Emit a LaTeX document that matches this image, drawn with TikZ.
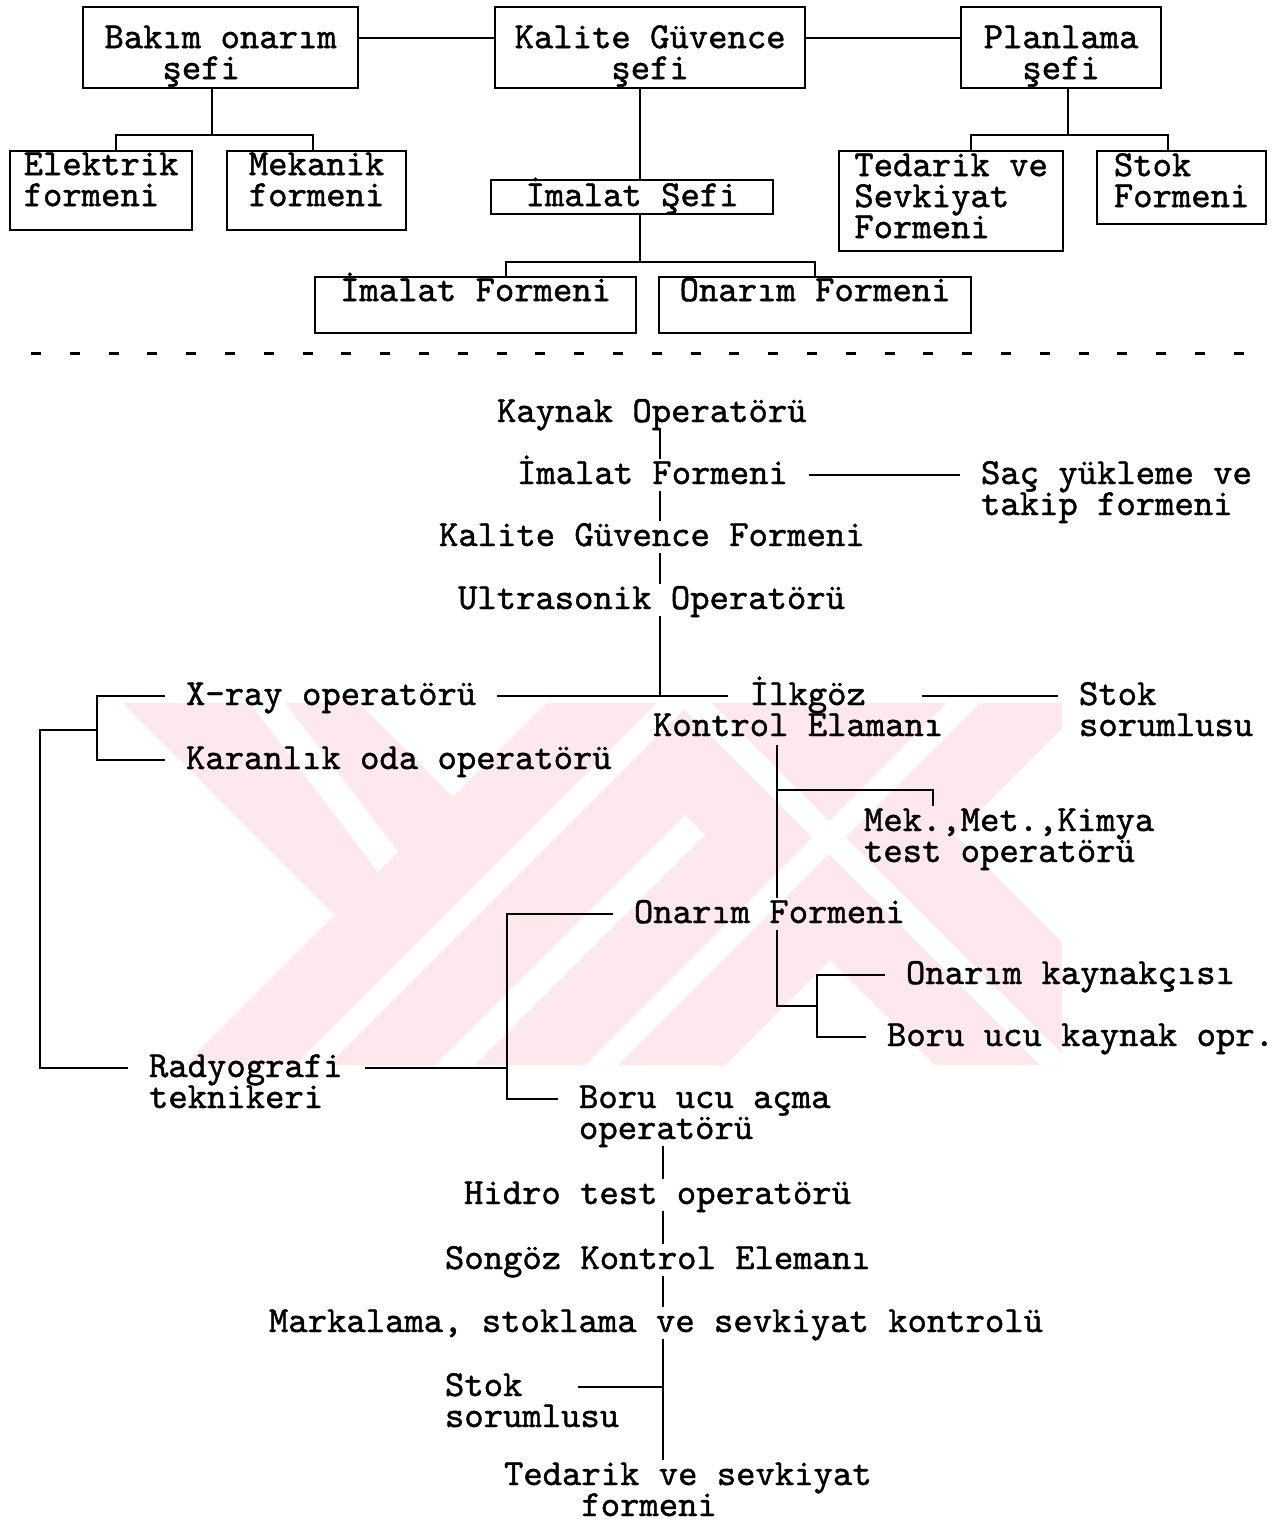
\documentclass[tikz,border=0pt]{standalone}
\usepackage{fontspec}
\newfontfamily\daktilo{lmmono10-regular.otf}[FakeBold=1.2]
\definecolor{pembe}{RGB}{253,233,237}
\newcommand{\yazi}{\daktilo\fontsize{36.86}{31}\selectfont\lineskiplimit=-100pt\relax}
\tikzset{every picture/.style={line width=2pt}}
\tikzset{
  kutu/.style={draw, line width=2.2pt, anchor=north west, inner sep=0pt, align=left, font=\yazi},
  etiket/.style={anchor=base west, inner xsep=20pt, inner ysep=0pt, text height=24pt, text depth=6pt, align=left, font=\yazi,
    execute at begin node={\spaceskip=0.525em\xspaceskip=0.525em\relax}}
}
\begin{document}
\begin{tikzpicture}[x=1pt,y=1pt,yscale=-1,xscale=1]
\useasboundingbox (0,0) rectangle (1283,1522);
%watermark
\begin{scope}
\clip (109,703) rectangle (1062,1065);
\fill[pembe] (123,703) -- (359,703) -- (453,797) -- (335,915) -- cycle;
\fill[pembe] (547,703) -- (797,703) -- (435,1065) -- (185,1065) -- cycle;
\fill[pembe] (573,703) -- (823,703) -- (1185,1065) -- (935,1065) -- cycle;
\fill[pembe] (837,703) -- (1087,703) -- (725,1065) -- (475,1065) -- cycle;
\fill[white] (250,703) -- (285,703) -- (398,852) -- (378,872) -- cycle;
\fill[white] (657,703) -- (690,703) -- (328,1065) -- (295,1065) -- cycle;
\fill[white] (678,703) -- (711,703) -- (1073,1065) -- (1040,1065) -- cycle;
\fill[white] (947,703) -- (980,703) -- (618,1065) -- (585,1065) -- cycle;
\end{scope}

%upper chart
\node[kutu, minimum width=275pt, text height=72pt, text depth=9pt] (bakim) at (82,6) {Bakım onarım\\\phantom{xxx}şefi};
\node[kutu, minimum width=310pt, text height=72pt, text depth=9pt] (kalite) at (494,6) {Kalite Güvence\\\phantom{xxxxx}şefi};
\node[kutu, minimum width=200pt, text height=72pt, text depth=9pt] (planlama) at (960,6) {Planlama\\\phantom{xx}şefi};
\node[kutu, minimum width=182pt, text height=55pt, text depth=24pt] (elektrik) at (9,150) {Elektrik\\formeni};
\node[kutu, minimum width=179pt, text height=55pt, text depth=24pt] (mekanik) at (226,150) {Mekanik\\formeni};
\node[kutu, minimum width=282pt, text height=26pt, text depth=8pt] (imalatsefi) at (490,179) {İmalat Şefi};
\node[kutu, minimum width=321pt, text height=24pt, text depth=32pt] (imalatform) at (314,276) {İmalat Formeni};
\node[kutu, minimum width=312pt, text height=24pt, text depth=32pt] (onarimform) at (658,276) {Onarım Formeni};
\node[kutu, minimum width=224pt, text height=87pt, text depth=13pt] (tedarik) at (838,150) {Tedarik ve\\Sevkiyat\\Formeni};
\node[kutu, minimum width=169pt, text height=56pt, text depth=17pt] (stok) at (1096,150) {Stok\\Formeni};

\coordinate (ustcizgi) at (0,38);
\coordinate (bakimdal) at (212,135);
\coordinate (kalitedal) at (640,262);
\coordinate (planlamadal) at (1068,135);
\draw (bakim.east |- ustcizgi) -- (kalite.west |- ustcizgi);
\draw (kalite.east |- ustcizgi) -- (planlama.west |- ustcizgi);
\draw (bakim.south -| bakimdal) -- (bakimdal);
\draw ([xshift=15pt]elektrik.north) |- (bakimdal) -| ([xshift=-4pt]mekanik.north);
\draw (kalite.south -| kalitedal) -- (imalatsefi.north -| kalitedal);
\draw (imalatsefi.south -| kalitedal) -- (kalitedal);
\draw ([xshift=30pt]imalatform.north) |- (kalitedal) -| (onarimform.north);
\draw (planlama.south -| planlamadal) -- (planlamadal);
\draw ([xshift=20pt]tedarik.north) |- (planlamadal) -| ([xshift=-14pt]stok.north);

%separator
\draw[line width=3pt, dash pattern=on 10pt off 28.8pt] (31,353) -- (1246,353);

%lower chart
\node[etiket] (kaynak) at (476,422) {Kaynak Operatörü};
\node[etiket] (imalat) at (496,484) {İmalat Formeni};
\node[etiket, text width=272pt] (sac) at (960,484) {Saç yükleme ve\\takip formeni};
\node[etiket] (kalitef) at (418,546) {Kalite Güvence Formeni};
\node[etiket] (ultra) at (437,609) {Ultrasonik Operatörü};
\node[etiket] (xray) at (165,705) {X-ray operatörü};
\node[etiket, text width=291pt] (ilkgoz) at (632,705) {\phantom{xxxxx}İlkgöz\\Kontrol Elamanı};
\node[etiket, text width=176pt] (stoksag) at (1058,705) {Stok\\sorumlusu};
\node[etiket] (karanlik) at (165,769) {Karanlık oda operatörü};
\node[etiket, text width=291pt] (mek) at (843,831) {Mek.,Met.,Kimya\\test operatörü};
\node[etiket] (onarim) at (613,923) {Onarım Formeni};
\node[etiket] (kaynakci) at (885,984) {Onarım kaynakçısı};
\node[etiket] (borukaynak) at (866,1046) {Boru ucu kaynak opr.};
\node[etiket, text width=195pt] (radyo) at (128,1077) {Radyografi\\teknikeri};
\node[etiket, text width=253pt] (boruacma) at (558,1108) {Boru ucu açma\\operatörü};
\node[etiket] (hidro) at (443,1204) {Hidro test operatörü};
\node[etiket] (songoz) at (424,1269) {Songöz Kontrol Elemanı};
\node[etiket] (marka) at (248,1332) {Markalama, stoklama ve sevkiyat kontrolü};
\node[etiket, text width=176pt] (stokalt) at (424,1396) {Stok\\sorumlusu};
\node[etiket, text width=369pt] (tedarikalt) at (483,1485) {Tedarik ve sevkiyat\\\phantom{xxxx}formeni};

\coordinate (govde) at (660,0);
\coordinate (govdealt) at (663,0);
\coordinate (dal) at (777,0);
\coordinate (ilkgozsol) at (728,696);
\coordinate (ilkgozsag) at (922,696);
\coordinate (kol1) at (97,730);
\coordinate (kol2) at (40,730);
\coordinate (mekkol) at (933,790);
\coordinate (kol3) at (507,1000);
\coordinate (kol4) at (817,1006);
\coordinate (stokucu) at (578,1387);

\draw (kaynak.south -| govde) -- (imalat.north -| govde);
\draw (imalat.south -| govde) -- (kalitef.north -| govde);
\draw (kalitef.south -| govde) -- (ultra.north -| govde);
\draw (ultra.south -| govde) -- (xray.east -| govde);
\draw (imalat.east) -- (sac.west);
\draw (xray.east) -- (ilkgozsol);
\draw (ilkgozsag) -- (stoksag.west);
\draw (xray.west) -| (kol1) |- (karanlik.west);
\draw (kol1) -- (kol2) |- (radyo.west);
\draw (dal |- ilkgoz.south) ++(0,33) -- (dal |- onarim.north);
\draw (dal |- mekkol) -- (mekkol) -- (mekkol |- mek.north);
\draw (onarim.west) -| (kol3) |- (boruacma.west);
\draw (radyo.east) -- (radyo.east -| kol3);
\draw (dal |- onarim.south) -- (dal |- kol4) -- (kol4);
\draw (kaynakci.west) -| (kol4) |- (borukaynak.west);
\draw (govdealt |- boruacma.south) ++(0,31) -- (govdealt |- hidro.north);
\draw (hidro.south -| govdealt) -- (songoz.north -| govdealt);
\draw (songoz.south -| govdealt) -- (marka.north -| govdealt);
\draw (marka.south -| govdealt) -- (tedarikalt.north -| govdealt);
\draw (stokucu) -- (stokucu -| govdealt);

\end{tikzpicture}
\end{document}
